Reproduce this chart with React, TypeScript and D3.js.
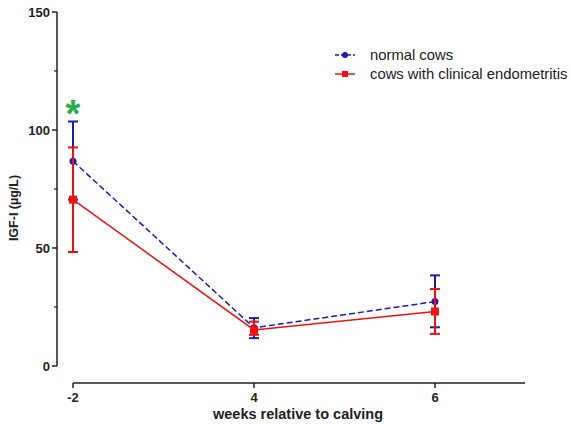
import * as d3 from "d3";

// categories on the x axis (weeks relative to calving)
const weeks = ["-2", "4", "6"];

// normal cows: mean, lower and upper error bar ends
const normalMean = [86.8, 16.2, 27.3];
const normalLow = [70.5, 11.8, 16.4];
const normalHigh = [103.6, 20.3, 38.4];

// cows with clinical endometritis
const endoMean = [70.5, 15.3, 23.1];
const endoLow = [48.3, 13.2, 13.6];
const endoHigh = [92.6, 18.8, 32.6];

const yTicks = [0, 50, 100, 150];
const yMinor = [25, 75, 125];

const width = 571;
const height = 424;

const BLUE = "#1c1cb4";
const RED = "#f01010";

export default function App() {
  const x = d3.scalePoint<string>().domain(weeks).range([73, 435]);
  const y = d3.scaleLinear().domain([0, 150]).range([366, 12]);
  const axisX = 57;
  const xAxisY = 383;

  const line = d3
    .line<number>()
    .x((_, i) => x(weeks[i]) as number)
    .y((d) => y(d));

  const errorBars = (low: number[], high: number[], color: string, key: string) =>
    weeks.map((w, i) => {
      const cx = x(w) as number;
      return (
        <g key={key + w} stroke={color} strokeWidth={2}>
          <line x1={cx} x2={cx} y1={y(low[i])} y2={y(high[i])} />
          <line x1={cx - 5} x2={cx + 5} y1={y(low[i])} y2={y(low[i])} />
          <line x1={cx - 5} x2={cx + 5} y1={y(high[i])} y2={y(high[i])} />
        </g>
      );
    });

  return (
    <svg
      width={width}
      height={height}
      style={{ position: "absolute", left: 0, top: 0, background: "#fff" }}
      fontFamily="Liberation Sans, Arial, sans-serif"
    >
      {/* y axis */}
      <line x1={axisX} x2={axisX} y1={y(150)} y2={y(0)} stroke="#222" strokeWidth={1.5} />
      {yTicks.map((t) => (
        <g key={t}>
          <line x1={axisX - 5} x2={axisX} y1={y(t)} y2={y(t)} stroke="#222" strokeWidth={1.5} />
          <text x={axisX - 7} y={y(t)} dy="0.35em" textAnchor="end" fontSize={13} fontWeight="bold" fill="#222">
            {t}
          </text>
        </g>
      ))}
      {yMinor.map((t) => (
        <line key={t} x1={axisX - 3} x2={axisX} y1={y(t)} y2={y(t)} stroke="#222" strokeWidth={1.2} />
      ))}
      <text
        transform={`translate(18,${(y(0) + y(150)) / 2 + 19}) rotate(-90)`}
        textAnchor="middle"
        fontSize={12.5}
        fontWeight="bold"
        fill="#222"
      >
        IGF-I (µg/L)
      </text>

      {/* x axis */}
      <line x1={73} x2={525} y1={xAxisY} y2={xAxisY} stroke="#222" strokeWidth={1.5} />
      {weeks.map((w) => (
        <g key={w}>
          <line x1={x(w)} x2={x(w)} y1={xAxisY} y2={xAxisY + 5} stroke="#222" strokeWidth={1.5} />
          <text x={x(w)} y={xAxisY + 14} dy="0.35em" textAnchor="middle" fontSize={13} fontWeight="bold" fill="#222">
            {w}
          </text>
        </g>
      ))}
      <text x={298} y={419} textAnchor="middle" fontSize={14.5} fontWeight="bold" fill="#222">
        weeks relative to calving
      </text>

      {/* series */}
      {errorBars(normalLow, normalHigh, BLUE, "n")}
      <path d={line(normalMean) ?? ""} fill="none" stroke={BLUE} strokeWidth={1.5} strokeDasharray="6,3" />
      {normalMean.map((v, i) => (
        <circle key={"nc" + i} cx={x(weeks[i])} cy={y(v)} r={3.5} fill={BLUE} />
      ))}
      {errorBars(endoLow, endoHigh, RED, "e")}
      <path d={line(endoMean) ?? ""} fill="none" stroke={RED} strokeWidth={1.5} />
      {endoMean.map((v, i) => (
        <rect key={"er" + i} x={(x(weeks[i]) as number) - 4} y={y(v) - 4} width={8} height={8} fill={RED} />
      ))}

      {/* significance marker */}
      <text x={x("-2")} y={127} textAnchor="middle" fontSize={38} fontWeight="bold" fill="#1fae4b">
        *
      </text>

      {/* legend */}
      <g>
        <line x1={335} x2={355} y1={55} y2={55} stroke={BLUE} strokeWidth={1.5} strokeDasharray="4,2" />
        <circle cx={345} cy={55} r={3} fill={BLUE} />
        <text x={370} y={55} dy="0.35em" fontSize={14.8} fill="#222">normal cows</text>
        <line x1={335} x2={355} y1={74} y2={74} stroke={RED} strokeWidth={1.5} />
        <rect x={342} y={71} width={6} height={6} fill={RED} />
        <text x={370} y={74} dy="0.35em" fontSize={14.8} fill="#222">cows with clinical endometritis</text>
      </g>
    </svg>
  );
}
